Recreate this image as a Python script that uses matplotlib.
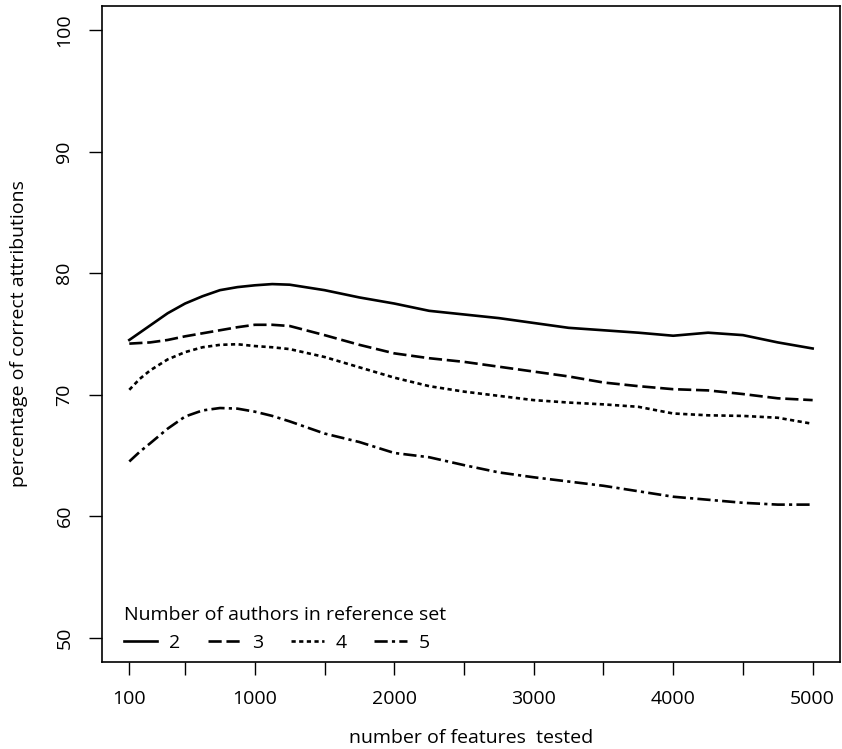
import matplotlib.pyplot as plt

plt.rcParams['font.family'] = ['Open Sans', 'DejaVu Sans']

# number of features tested
features = [100, 175, 250, 375, 500, 625, 750, 875, 1000, 1125, 1250, 1500,
            1750, 2000, 2250, 2500, 2750, 3000, 3250, 3500, 3750, 4000, 4250,
            4500, 4750, 5000]

# percentage of correct attributions per reference-set size
authors2 = [74.5, 75.1, 75.7, 76.7, 77.5, 78.1, 78.6, 78.85, 79.0, 79.1, 79.05,
            78.6, 78.0, 77.5, 76.9, 76.6, 76.3, 75.9, 75.5, 75.3, 75.1, 74.85,
            75.1, 74.9, 74.3, 73.8]
authors3 = [74.2, 74.25, 74.3, 74.5, 74.8, 75.05, 75.3, 75.55, 75.75, 75.75,
            75.65, 74.9, 74.1, 73.4, 73.0, 72.7, 72.3, 71.9, 71.5, 71.0, 70.7,
            70.45, 70.35, 70.05, 69.7, 69.55]
authors4 = [70.4, 71.3, 72.0, 72.9, 73.5, 73.9, 74.1, 74.15, 74.0, 73.9, 73.75,
            73.1, 72.25, 71.4, 70.7, 70.25, 69.9, 69.55, 69.35, 69.2, 69.0,
            68.45, 68.3, 68.25, 68.1, 67.6]
authors5 = [64.5, 65.3, 66.0, 67.2, 68.2, 68.7, 68.9, 68.85, 68.6, 68.25, 67.8,
            66.8, 66.1, 65.2, 64.85, 64.2, 63.6, 63.2, 62.85, 62.5, 62.05, 61.6,
            61.35, 61.1, 60.95, 60.95]

series = [("2", authors2, (None, None)),
          ("3", authors3, (5, 1.8)),
          ("4", authors4, (1.6, 1.3)),
          ("5", authors5, (5, 1.6, 1.2, 1.6))]

xticks = [100, 500, 1000, 1500, 2000, 2500, 3000, 3500, 4000, 4500, 5000]
xticklabels = ["100", "", "1000", "", "2000", "", "3000", "", "4000", "", "5000"]
yticks = [50, 60, 70, 80, 90, 100]

fig = plt.figure(figsize=(8.42, 7.49), dpi=100)
ax = fig.add_axes([0.1211, 0.1162, 0.8765, 0.876])

for name, vals, dash in series:
    line, = ax.plot(features, vals, color='black', lw=1.9, label=name)
    if dash[0] is not None:
        line.set_dashes(dash)

ax.set_xlim(-96, 5196)
ax.set_ylim(48, 102)
ax.set_xticks(xticks)
ax.set_xticklabels(xticklabels)
ax.set_yticks(yticks)
ax.set_yticklabels([str(v) for v in yticks], rotation=90, va='center')
ax.tick_params(direction='out', length=9.5, width=1.0, pad=11, labelsize=14)
for sp in ax.spines.values():
    sp.set_linewidth(1.2)

ax.set_xlabel("number of features  tested", fontsize=14, labelpad=15)
ax.set_ylabel("percentage of correct attributions", fontsize=14, labelpad=20)

ax.legend(title="Number of authors in reference set", ncol=4, frameon=False,
          loc='lower left', bbox_to_anchor=(0.012, -0.005), fontsize=14,
          title_fontsize=14, handlelength=1.7, handletextpad=0.6,
          columnspacing=1.4, alignment='left', borderaxespad=0.3)

fig.savefig("out.png", dpi=100)
